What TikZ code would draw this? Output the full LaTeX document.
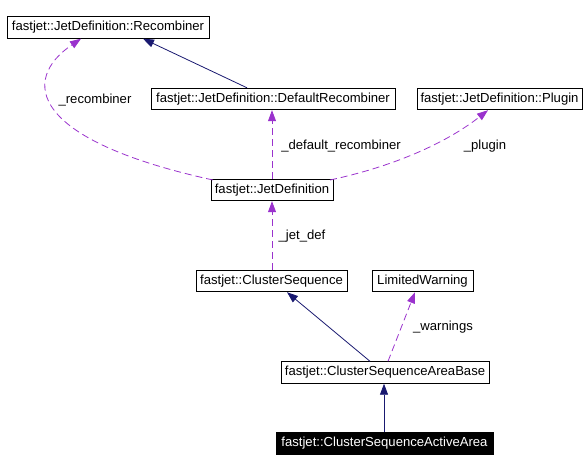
\documentclass[tikz,border=0pt]{standalone}
\usepackage{fontspec}
\setmainfont{Liberation Sans}
\usetikzlibrary{arrows.meta}
\definecolor{inh}{HTML}{191970}
\definecolor{usg}{HTML}{9A32CD}
\begin{document}
\begin{tikzpicture}[x=1pt,y=-1pt,
  cls/.style={draw=black,fill=white,line width=0.9pt,inner sep=0pt,minimum height=21.5pt,font=\fontsize{13.1}{15}\selectfont},
  cur/.style={cls,fill=black,text=white},
  inhline/.style={draw=inh,line width=0.8pt,-{Triangle[length=11pt,width=8pt]}},
  useline/.style={draw=usg,line width=0.8pt,dash pattern=on 7pt off 4pt,-{Triangle[length=11pt,width=8pt]}},
  lbl/.style={font=\fontsize{13.1}{15}\selectfont,inner sep=0pt}]
\useasboundingbox (0,0) rectangle (588,471);
\node[cls,minimum width=202pt] (rec) at (108,27.5) {fastjet::JetDefinition::Recombiner};
\node[cls,minimum width=244pt] (drec) at (273,99) {fastjet::JetDefinition::DefaultRecombiner};
\node[cls,minimum width=165pt] (plug) at (499.5,99) {fastjet::JetDefinition::Plugin};
\node[cls,minimum width=122pt] (jd) at (272,190) {fastjet::JetDefinition};
\node[cls,minimum width=151pt] (cs) at (271.5,281) {fastjet::ClusterSequence};
\node[cls,minimum width=101pt] (lw) at (422.5,281) {LimitedWarning};
\node[cls,minimum width=208pt] (csab) at (385,372.5) {fastjet::ClusterSequenceAreaBase};
\node[cur,minimum width=217pt] (csaa) at (384.5,443.5) {fastjet::ClusterSequenceActiveArea};
\coordinate (jdtl) at (213,180);
\coordinate (jdtr) at (330,180);
\draw[inhline] (drec.north -| 247,0) -- (rec.south -| 143,0);
\draw[useline] (jdtl) .. controls (30,140) and (20,80) .. (rec.south -| 81,0);
\draw[useline] (jd.north) -- (drec.south -| jd.north);
\draw[useline] (jdtr) .. controls (400,165) and (450,140) .. (plug.south -| 488,0);
\draw[useline] (cs.north -| 272,0) -- (jd.south -| 272,0);
\draw[inhline] (csab.north -| 370,0) -- (cs.south -| 287,0);
\draw[useline] (csab.north -| 388,0) -- (lw.south -| 415,0);
\draw[inhline] (csaa.north -| 384,0) -- (csab.south -| 384,0);
\node[lbl] (l1) at (95,100) {\_recombiner};
\node[lbl] (l2) at (341,146) {\_default\_recombiner};
\node[lbl] (l3) at (485,146) {\_plugin};
\node[lbl] (l4) at (302,236) {\_jet\_def};
\node[lbl] (l5) at (443,327) {\_warnings};
\end{tikzpicture}
\end{document}
